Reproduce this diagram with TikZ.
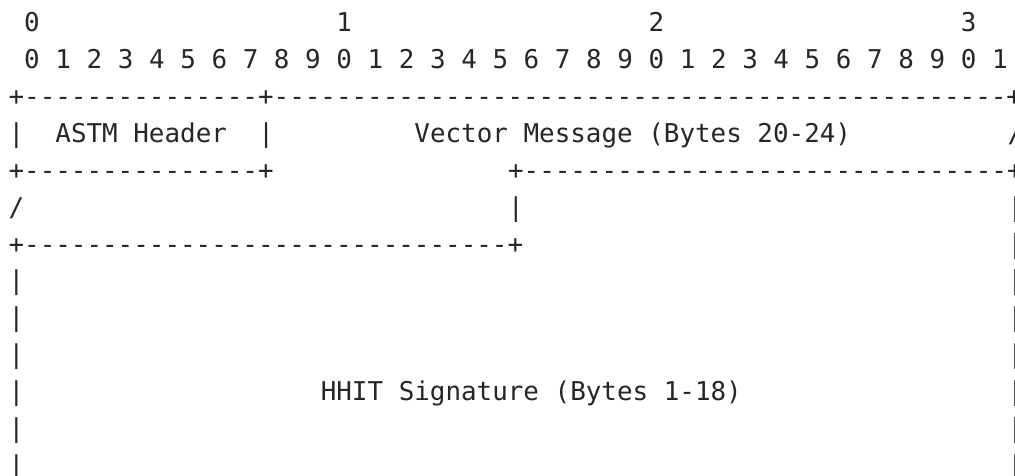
\documentclass[tikz,border=0pt]{standalone}
\usepackage{fontspec}
\setmonofont{DejaVu Sans Mono}
\usepackage{xcolor}
\definecolor{ink}{HTML}{262626}
\newcommand{\dashrun}[1]{\foreach \i in {1,...,#1}{-}}

\begin{document}
\begin{tikzpicture}
    [x=15.61pt,y=-36.85pt,
     cell/.style={anchor=base west,inner sep=0pt,outer sep=0pt,text=ink,
                  font=\ttfamily\fontsize{25.9pt}{31pt}\selectfont}]
\useasboundingbox (-8.6pt,0pt) rectangle (1006.4pt,-476pt);
\begin{scope}[yshift=4.86pt]
%bit numbers on top
\foreach \t in {0,...,3}
  \node[cell] (ten\t) at ({20*\t+1},1) {\t};
\foreach \b in {0,...,31}{
  \pgfmathtruncatemacro{\dg}{mod(\b,10)}
  \node[cell] (bit\b) at ({2*\b+1},2) {\dg};
}
%header row and vector message
\node[cell] (top) at (0,3) {+\dashrun{15}+\dashrun{47}+};
\node[cell] (lb4) at (0,4) {|};
\node[cell] (astm) at (3,4) {ASTM Header};
\node[cell] (sep4) at (16,4) {|};
\node[cell] (vec) at (26,4) {Vector Message (Bytes 20-24)};
\node[cell] (cut4) at (64,4) {/};
\node[cell] (astmbot) at (0,5) {+\dashrun{15}+};
\node[cell] (sigtop) at (32,5) {+\dashrun{31}+};
\node[cell] (cut6) at (0,6) {/};
\node[cell] (mid6) at (32,6) {|};
\node[cell] (vecbot) at (0,7) {+\dashrun{31}+};
%signature block
\foreach \r in {8,...,13}
  \node[cell] (lb\r) at (0,\r) {|};
\foreach \r in {6,...,13}
  \node[cell] (rb\r) at (64,\r) {|};
\node[cell] (hhit) at (20,11) {HHIT Signature (Bytes 1-18)};
\end{scope}
\end{tikzpicture}
\end{document}
